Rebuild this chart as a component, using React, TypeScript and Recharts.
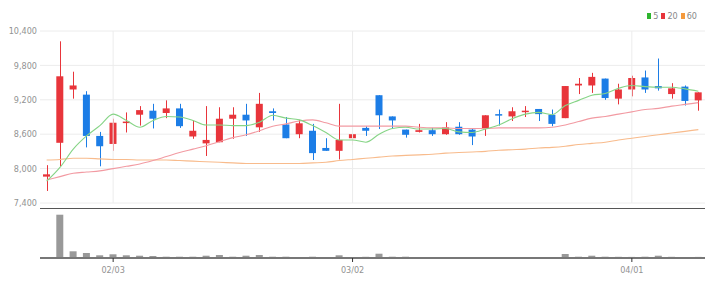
import React from 'react';
import {
  ComposedChart,
  Bar,
  Line,
  XAxis,
  YAxis,
  CartesianGrid,
  ReferenceLine,
} from 'recharts';

const dates = [
  '01/22', '01/23', '01/24', '01/30', '01/31', '02/03', '02/04', '02/05', '02/06', '02/07',
  '02/10', '02/11', '02/12', '02/13', '02/14', '02/17', '02/18', '02/19', '02/20', '02/21',
  '02/24', '02/25', '02/27', '03/02', '03/04', '03/05', '03/06', '03/07', '03/10', '03/11',
  '03/12', '03/13', '03/14', '03/17', '03/18', '03/19', '03/20', '03/21', '03/24', '03/25',
  '03/26', '03/27', '03/28', '03/31', '04/01', '04/02', '04/03', '04/04', '04/07', '04/08',
];

const opens = [
  7860, 8450, 9380, 9290, 8570, 8430, 8800, 8940, 9010, 8970,
  9050, 8560, 8440, 8460, 8870, 8940, 8720, 9000, 8770, 8600,
  8660, 8360, 8310, 8530, 8710, 9280, 8910, 8680, 8640, 8670,
  8600, 8730, 8680, 8700, 8950, 8910, 8990, 9040, 8940, 8880,
  9450, 9450, 9570, 9220, 9380, 9590, 9440, 9300, 9430, 9190,
];
const highs = [
  8060, 10220, 9690, 9350, 8640, 8870, 8980, 9090, 9130, 9190,
  9130, 8840, 9090, 9070, 9070, 9130, 9320, 9050, 8900, 8850,
  8780, 8530, 9130, 8600, 8740, 9280, 8910, 8680, 8780, 8710,
  8810, 8810, 8690, 8930, 9030, 9070, 9090, 9040, 9030, 9440,
  9580, 9670, 9570, 9480, 9620, 9710, 9920, 9490, 9450, 9330,
];
const lows = [
  7610, 8040, 9220, 8370, 8040, 8310, 8630, 8750, 8700, 8880,
  8710, 8520, 8220, 8460, 8520, 8570, 8640, 8840, 8530, 8530,
  8150, 8310, 8160, 8410, 8570, 8690, 8690, 8540, 8630, 8570,
  8590, 8590, 8410, 8570, 8750, 8830, 8900, 8830, 8740, 8880,
  9300, 9320, 9200, 9120, 9260, 9320, 9360, 9220, 9100, 9010,
];
const closes = [
  7900, 9610, 9450, 8570, 8390, 8800, 8820, 9020, 8870, 9050,
  8740, 8660, 8500, 8870, 8940, 8840, 9130, 8970, 8530, 8790,
  8270, 8310, 8500, 8600, 8660, 8930, 8840, 8590, 8670, 8600,
  8720, 8600, 8560, 8930, 8930, 9000, 9010, 8950, 8780, 9440,
  9480, 9600, 9230, 9380, 9580, 9380, 9400, 9400, 9180, 9330,
];
const volumes = [
  20000, 4330000, 670000, 500000, 270000, 370000, 270000, 230000, 200000, 130000,
  130000, 130000, 230000, 300000, 130000, 230000, 300000, 130000, 130000, 100000,
  130000, 100000, 270000, 100000, 120000, 430000, 130000, 130000, 60000, 60000,
  50000, 60000, 60000, 90000, 80000, 90000, 70000, 90000, 100000, 400000,
  130000, 230000, 130000, 120000, 110000, 130000, 230000, 120000, 100000, 110000,
];
const ma5 = [
  7780, 8020, 8340, 8570, 8750, 8950, 8840, 8720, 8840, 8910,
  8900, 8840, 8760, 8760, 8750, 8750, 8810, 8930, 8880, 8850,
  8750, 8630, 8500, 8500, 8460, 8600, 8700, 8720, 8690, 8690,
  8700, 8640, 8630, 8690, 8760, 8870, 8950, 8980, 8940, 9100,
  9190, 9280, 9310, 9400, 9450, 9430, 9420, 9420, 9390, 9350,
];
const ma20 = [
  7800, 7860, 7920, 7940, 7960, 8000, 8040, 8080, 8140, 8210,
  8280, 8340, 8400, 8470, 8540, 8590, 8660, 8740, 8780, 8830,
  8850, 8800, 8740, 8740, 8740, 8740, 8740, 8740, 8720, 8710,
  8710, 8700, 8700, 8700, 8710, 8710, 8710, 8710, 8720, 8760,
  8820, 8880, 8910, 8950, 8990, 9030, 9050, 9090, 9120, 9150,
];
const ma60 = [
  8150, 8160, 8180, 8180, 8170, 8160, 8160, 8150, 8150, 8150,
  8140, 8130, 8120, 8110, 8100, 8090, 8090, 8090, 8090, 8090,
  8100, 8110, 8140, 8160, 8180, 8200, 8220, 8230, 8240, 8250,
  8270, 8280, 8290, 8300, 8320, 8330, 8340, 8360, 8370, 8390,
  8420, 8440, 8460, 8500, 8530, 8560, 8590, 8620, 8650, 8680,
];

const priceTicks = [7400, 8000, 8600, 9200, 9800, 10400];
const dateTicks = ['02/03', '03/02', '04/01'];
const maLegend = [
  { label: '5', color: '#2fb52f' },
  { label: '20', color: '#e8353b' },
  { label: '60', color: '#f59a3c' },
];

const RED = '#e8353b';
const BLUE = '#1c7de6';
const FONT = "'Liberation Sans Narrow', 'DejaVu Sans Condensed', Roboto, sans-serif";

const rows = dates.map((date, i) => ({
  date,
  open: opens[i],
  high: highs[i],
  low: lows[i],
  close: closes[i],
  range: [lows[i], highs[i]],
  volume: volumes[i],
  ma5: ma5[i],
  ma20: ma20[i],
  ma60: ma60[i],
}));

const Candle = (props: any) => {
  const { x, y, width, height, payload } = props;
  if (x == null || y == null) return null;
  const top = Math.min(y, y + height);
  const h = Math.abs(height);
  const { open, close, high, low } = payload;
  const up = close >= open;
  const color = up ? RED : BLUE;
  const span = high - low || 1;
  const py = (v: number) => top + ((high - v) / span) * h;
  const bTop = py(Math.max(open, close));
  const bBot = py(Math.min(open, close));
  const cx = Math.round(x + width / 2) + 0.5;
  return (
    <g>
      <line x1={cx} x2={cx} y1={top} y2={top + h} stroke={color} strokeWidth={1} />
      <rect x={x} y={bTop} width={width} height={Math.max(1.5, bBot - bTop)} fill={color} />
    </g>
  );
};

export default function App() {
  return (
    <div
      style={{
        position: 'absolute',
        left: 0,
        top: 0,
        width: 721,
        height: 290,
        background: '#fff',
        fontFamily: FONT,
      }}
    >
      <div
        style={{
          position: 'absolute',
          right: 24,
          top: 10,
          display: 'flex',
          alignItems: 'center',
          fontSize: 9,
          color: '#888',
          lineHeight: '12px',
        }}
      >
        {maLegend.map((m) => (
          <span key={m.label} style={{ display: 'flex', alignItems: 'center', marginLeft: 3 }}>
            <span style={{ display: 'inline-block', width: 4, height: 6, background: m.color, marginRight: 2 }} />
            {m.label}
          </span>
        ))}
      </div>

      <div style={{ position: 'absolute', left: 0, top: 0 }}>
        <ComposedChart
          width={721}
          height={215}
          data={rows}
          margin={{ top: 31, right: 16, bottom: 12, left: 0 }}
        >
          <CartesianGrid vertical={false} stroke="#ececec" />
          <XAxis dataKey="date" hide />
          <YAxis
            domain={[7400, 10400]}
            ticks={priceTicks}
            allowDataOverflow
            width={40}
            tickLine={false}
            axisLine={false}
            tickSize={3}
            tickMargin={0}
            tick={{ fontSize: 9, fill: '#929292', fontFamily: FONT }}
            tickFormatter={(v: number) => v.toLocaleString('en-US')}
          />
          {dateTicks.map((d) => (
            <ReferenceLine key={d} x={d} stroke="#ececec" />
          ))}
          <Bar dataKey="range" barSize={7} shape={<Candle />} isAnimationActive={false} />
          <Line type="monotone" dataKey="ma60" stroke="#f8bb8c" strokeWidth={1.1} dot={false} isAnimationActive={false} />
          <Line type="monotone" dataKey="ma20" stroke="#f29aa2" strokeWidth={1.1} dot={false} isAnimationActive={false} />
          <Line type="monotone" dataKey="ma5" stroke="#86d486" strokeWidth={1.1} dot={false} isAnimationActive={false} />
        </ComposedChart>
      </div>

      <div style={{ position: 'absolute', left: 0, top: 208 }}>
        <ComposedChart
          width={721}
          height={82}
          data={rows}
          margin={{ top: 0, right: 16, bottom: 0, left: 40 }}
        >
          <XAxis
            dataKey="date"
            ticks={dateTicks}
            interval={0}
            height={32}
            axisLine={{ stroke: '#777', strokeWidth: 2 }}
            tickLine={{ stroke: '#333' }}
            tickSize={4}
            tickMargin={5}
            tick={{ fontSize: 9, fill: '#929292', fontFamily: FONT }}
          />
          <YAxis hide domain={[0, 5000000]} />
          <ReferenceLine y={5000000} stroke="#555" strokeWidth={2} />
          <Bar dataKey="volume" barSize={7} fill="#999" isAnimationActive={false} />
        </ComposedChart>
      </div>
    </div>
  );
}
